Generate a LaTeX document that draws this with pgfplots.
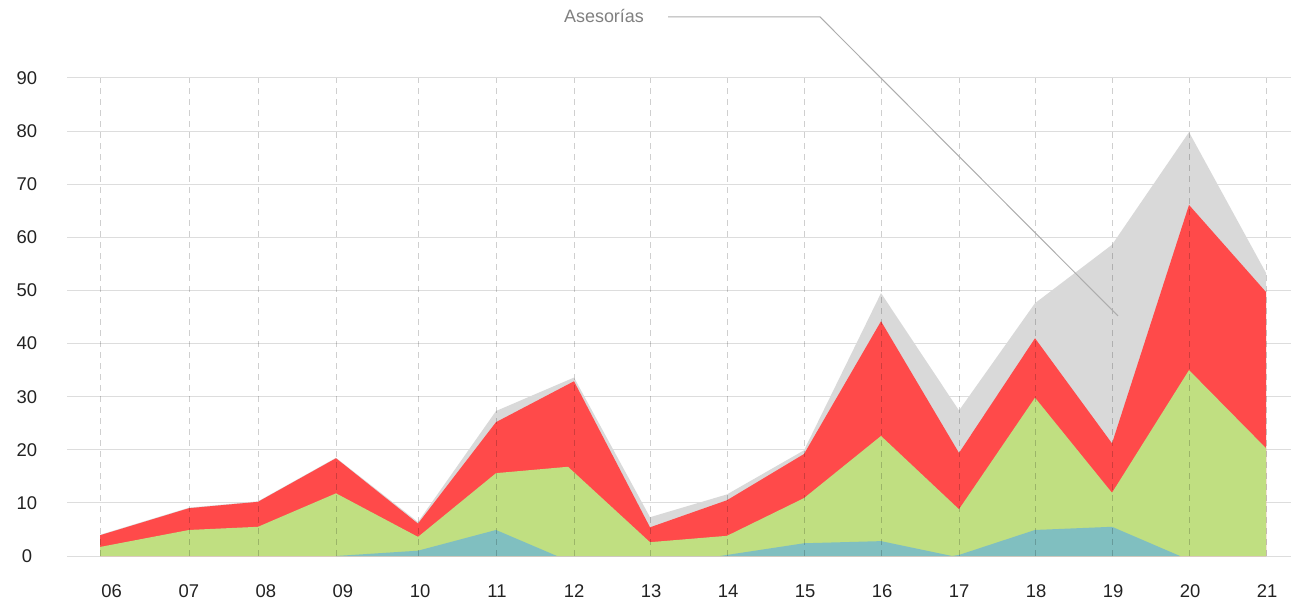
\documentclass[border=0pt]{standalone}
\usepackage{pgfplots}
\pgfplotsset{compat=1.18}
\usepackage{fontspec}
\setmainfont{Liberation Sans}
\definecolor{cred}{HTML}{FF4A4A}
\definecolor{cgreen}{HTML}{C0DF81}
\definecolor{cteal}{HTML}{80BFC0}
\definecolor{cgray}{HTML}{D9D9D9}
\definecolor{gridc}{HTML}{DDDDDD}
\definecolor{tickc}{HTML}{222222}
\begin{document}
\begin{tikzpicture}
\path[use as bounding box] (0,0) rectangle (1291bp,603bp);
\begin{axis}[
  at={(67bp,47bp)}, anchor=south west,
  scale only axis, width=1224bp, height=478bp,
  xmin=67, xmax=1291, ymin=0, ymax=90,
  clip=false,
  axis line style={draw=none},
  major tick length=0pt,
  ymajorgrids, grid style={gridc, line width=1bp},
  ytick={0,10,...,90},
  xtick={111.7,188.8,265.8,342.9,420,497,574,651,728,805,882,959,1036,1113,1190,1267},
  xticklabels={06,07,08,09,10,11,12,13,14,15,16,17,18,19,20,21},
  /pgf/number format/assume math mode=true,
  tick label style={font=\fontsize{18.5}{22}\selectfont, text=tickc},
  yticklabel style={anchor=center, xshift=-40bp},
  xticklabel style={anchor=center, yshift=-35bp},
]
% Asesorias (total)
\addplot[fill=cgray, draw=none] coordinates {
(100,4.0) (189,9.1) (258,10.3) (336,18.5) (418,6.4) (496,27.3) (574,33.6) (650,7.3) (727,11.6) (804,19.9) (881,49.5) (959,27.4) (1035,47.6) (1112,58.6) (1189,79.8) (1266,53.3)} \closedcycle;
% red
\addplot[fill=cred, draw=none] coordinates {
(100,3.9) (189,9.0) (258,10.2) (336,18.4) (418,6.1) (496,25.2) (574,32.9) (650,5.4) (727,10.5) (804,19.2) (881,44.2) (959,19.4) (1035,41.0) (1112,21.2) (1189,66.1) (1266,49.7)} \closedcycle;
% green
\addplot[fill=cgreen, draw=none] coordinates {
(100,1.7) (189,4.9) (258,5.5) (336,11.8) (418,3.6) (496,15.6) (568,16.8) (650,2.6) (727,3.8) (804,10.9) (881,22.6) (959,8.8) (1035,29.8) (1112,11.9) (1189,35.0) (1266,20.3)} \closedcycle;
% teal
\addplot[fill=cteal, draw=none] coordinates {
(336,0) (418,1.0) (496,4.9) (557,0) (720,0) (804,2.4) (881,2.8) (952,0) (959,0.2) (1035,4.9) (1112,5.5) (1180,0)} \closedcycle;
% vertical dashed grid on top
\addplot[ycomb, black, opacity=0.19, line width=1bp, dash pattern=on 6bp off 5bp, mark=none] coordinates {
(100,90) (189,90) (258,90) (336,90) (418,90) (496,90) (574,90) (650,90) (727,90) (804,90) (881,90) (959,90) (1035,90) (1112,90) (1189,90) (1266,90)};
% annotation
\draw[color=black!32, line width=1bp] (axis cs:668,101.5) -- (axis cs:820,101.5) -- (axis cs:1118,45.2);
\node[text=black!50, font=\fontsize{18}{21}\selectfont] at (axis cs:604,101.6) {Asesorías};
\end{axis}
\end{tikzpicture}
\end{document}
